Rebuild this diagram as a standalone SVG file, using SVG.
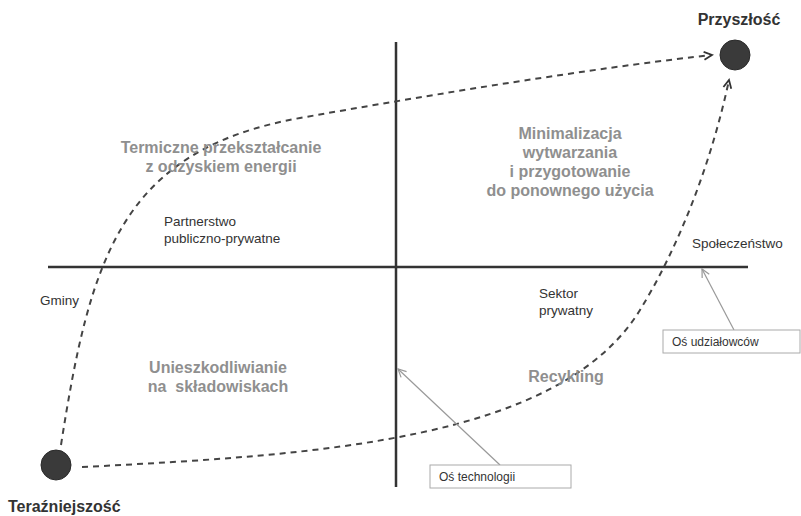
<svg xmlns="http://www.w3.org/2000/svg" width="801" height="516" viewBox="0 0 801 516">
<defs>
<style>
.axis{stroke:#333;stroke-width:2.5;fill:none}
.flow{stroke:#444;stroke-width:2;fill:none;stroke-dasharray:6 5}
.call{stroke:#999;stroke-width:1.2;fill:none}
.box{stroke:#aaa;stroke-width:1;fill:#fff}
.dot{fill:#3a3a3a;stroke:#2a2a2a;stroke-width:1}
.big{font-family:"Liberation Sans",Arial,sans-serif;font-weight:bold;font-size:16px;fill:#8f8f8f;text-anchor:middle}
.title{font-family:"Liberation Sans",Arial,sans-serif;font-weight:bold;font-size:16px;fill:#333}
.lab{font-family:"Liberation Sans",Arial,sans-serif;font-size:13.5px;fill:#333}
.small{font-family:"Liberation Sans",Arial,sans-serif;font-size:12px;fill:#333}
</style>
<marker id="arr" markerWidth="12" markerHeight="12" refX="9" refY="5" orient="auto" markerUnits="userSpaceOnUse">
<path d="M1,1 L9,5 L1,9" fill="none" stroke="#333" stroke-width="1.8"/>
</marker>
<marker id="garr" markerWidth="12" markerHeight="12" refX="9" refY="5" orient="auto" markerUnits="userSpaceOnUse">
<path d="M1,1 L9,5 L1,9" fill="none" stroke="#999" stroke-width="1.2"/>
</marker>
</defs>
<rect width="801" height="516" fill="#fff"/>

<g id="axes">
<line class="axis" x1="396" y1="42" x2="396" y2="487"/>
<line class="axis" x1="48" y1="267" x2="748" y2="267"/>
</g>

<g id="connectors">
<path class="flow" d="M61,445 C90,260 120,150 300,118 C480,86 620,65 712,55" marker-end="url(#arr)"/>
<path class="flow" d="M82,467 C320,455 560,440 640,310 C680,245 712,160 729,80" marker-end="url(#arr)"/>
<line class="call" x1="500" y1="465" x2="398" y2="369" marker-end="url(#garr)"/>
<line class="call" x1="734" y1="330" x2="702" y2="269" marker-end="url(#garr)"/>
</g>

<g id="terazniejszosc">
<circle class="dot" cx="56" cy="465" r="15"/>
<text class="title" x="8" y="512">Teraźniejszość</text>
</g>

<g id="przyszlosc">
<circle class="dot" cx="735" cy="55" r="15"/>
<text class="title" x="739" y="25" text-anchor="middle">Przyszłość</text>
</g>

<g id="termiczne">
<text class="big" x="221" y="153">Termiczne przekształcanie</text>
<text class="big" x="221" y="172">z odzyskiem energii</text>
</g>

<g id="minimalizacja">
<text class="big" x="570" y="139">Minimalizacja</text>
<text class="big" x="570" y="158">wytwarzania</text>
<text class="big" x="570" y="177">i przygotowanie</text>
<text class="big" x="570" y="196">do ponownego użycia</text>
</g>

<g id="unieszkodliwianie">
<text class="big" x="218" y="373">Unieszkodliwianie</text>
<text class="big" x="218" y="392" xml:space="preserve">na  składowiskach</text>
</g>

<g id="recykling">
<text class="big" x="566" y="382">Recykling</text>
</g>

<g id="partnerstwo">
<text class="lab" x="164" y="226">Partnerstwo</text>
<text class="lab" x="164" y="243">publiczno-prywatne</text>
</g>

<g id="gminy">
<text class="lab" x="40" y="305">Gminy</text>
</g>

<g id="sektor">
<text class="lab" x="539" y="298">Sektor</text>
<text class="lab" x="539" y="315">prywatny</text>
</g>

<g id="spoleczenstwo">
<text class="lab" x="692" y="248">Społeczeństwo</text>
</g>

<g id="os-udzialowcow">
<rect class="box" x="663" y="330" width="137" height="23"/>
<text class="small" x="672" y="346">Oś udziałowców</text>
</g>

<g id="os-technologii">
<rect class="box" x="430" y="465" width="141" height="23"/>
<text class="small" x="439" y="481">Oś technologii</text>
</g>
</svg>
